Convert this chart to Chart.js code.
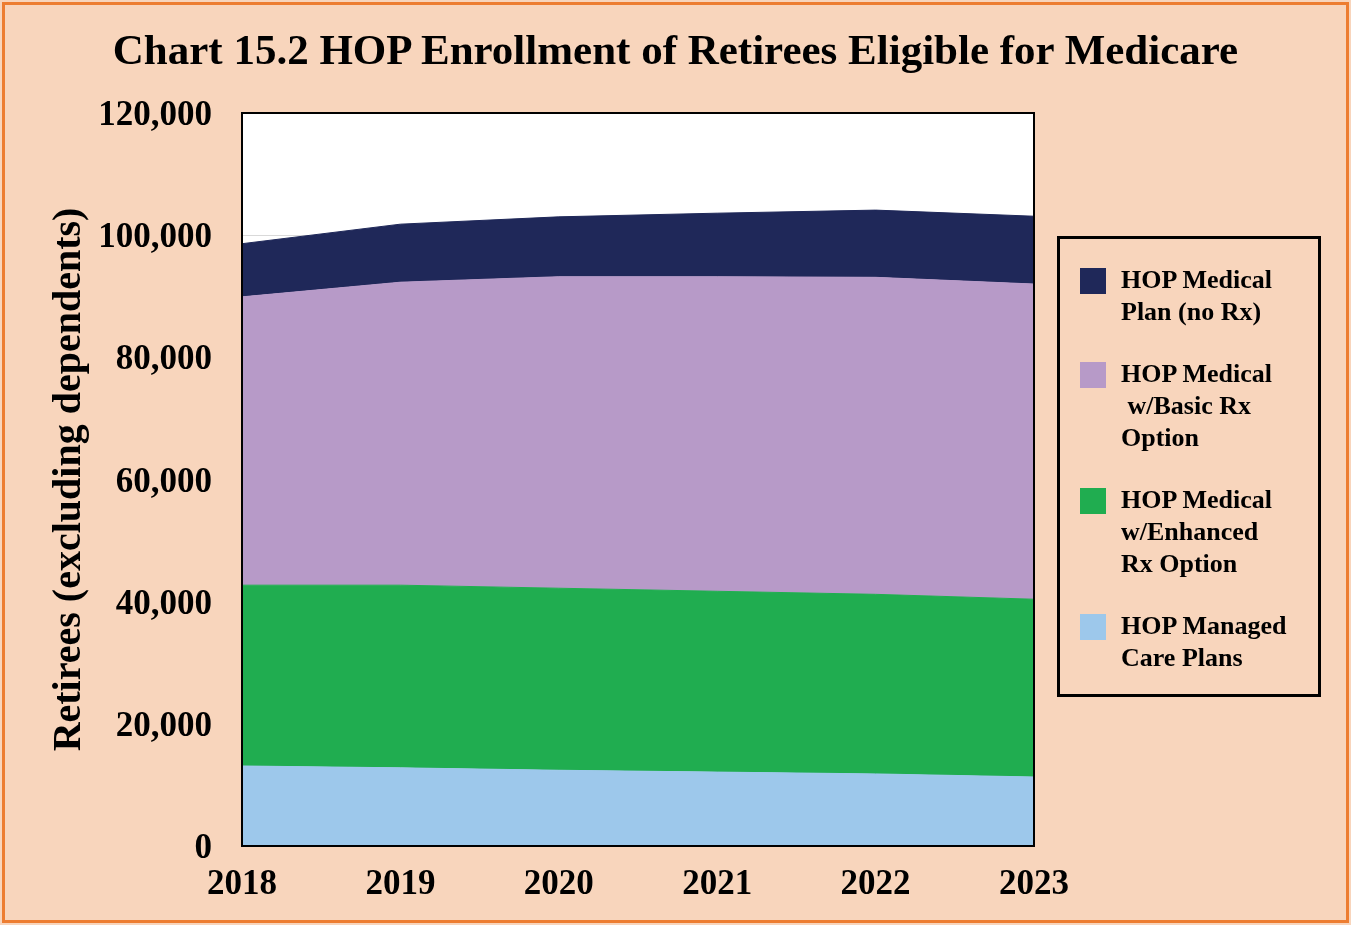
<!DOCTYPE html>
<html>
<head>
<meta charset="utf-8">
<script src="https://cdn.jsdelivr.net/npm/chart.js@4"></script>
<style>
  body { margin: 0; background: #fff; }
  #wrap { position: absolute; left: 0; top: 0; width: 1351px; height: 925px; background: #F8D5BC; }
  #frame { position: absolute; left: 2px; top: 2px; right: 2px; bottom: 2px; border: 3px solid #ED7D31; }
  #title { position: absolute; left: 0; width: 1351px; top: 25px; text-align: center;
           font: bold 43px "Liberation Serif", serif; color: #000; }
  #chart { position: absolute; left: 0; top: 0; }
  #legend { position: absolute; left: 1057px; top: 236px; width: 258px; height: 455px;
            border: 3px solid #000; font: bold 26px "Liberation Serif", serif; color: #000; }
  .item { position: relative; padding-left: 61px; margin-top: 30px; line-height: 32px; }
  .item:first-child { margin-top: 25px; }
  .sw { position: absolute; left: 20px; top: 4px; width: 26px; height: 26px; }
</style>
</head>
<body>
<div id="wrap">
  <div id="frame"></div>
  <canvas id="chart" width="1351" height="925"></canvas>
  <div id="title">Chart 15.2 HOP Enrollment of Retirees Eligible for Medicare</div>
  <div id="legend"></div>
</div>
<script>
const years = ['2018', '2019', '2020', '2021', '2022', '2023'];
const managedCare = [13100, 12800, 12400, 12100, 11800, 11300];
const enhancedRx = [29600, 29900, 29800, 29600, 29400, 29100];
const basicRx = [47200, 49600, 51000, 51500, 51900, 51600];
const noRx = [8700, 9500, 9800, 10400, 11000, 11100];
const yTicks = [0, 20000, 40000, 60000, 80000, 100000, 120000];

const series = [
  { label: ['HOP Managed', 'Care Plans'], data: managedCare, color: '#9DC8EB' },
  { label: ['HOP Medical', 'w/Enhanced', 'Rx Option'], data: enhancedRx, color: '#20AD50' },
  { label: ['HOP Medical', '\u00a0w/Basic Rx', 'Option'], data: basicRx, color: '#B79AC8' },
  { label: ['HOP Medical', 'Plan (no Rx)'], data: noRx, color: '#1F2859' }
];

const serif = '"Liberation Serif", serif';

// white plot area + black frame
const plotFrame = {
  id: 'plotFrame',
  beforeDraw(chart) {
    const a = chart.chartArea, ctx = chart.ctx;
    ctx.save();
    ctx.fillStyle = '#fff';
    ctx.fillRect(a.left, a.top, a.right - a.left, a.bottom - a.top);
    ctx.restore();
  },
  afterDraw(chart) {
    const a = chart.chartArea, ctx = chart.ctx;
    ctx.save();
    ctx.strokeStyle = '#000';
    ctx.lineWidth = 2;
    ctx.strokeRect(a.left, a.top, a.right - a.left, a.bottom - a.top);
    ctx.restore();
  }
};

const chart = new Chart(document.getElementById('chart'), {
  type: 'line',
  data: {
    labels: years,
    datasets: series.map((s, i) => ({
      label: s.label.join(' '),
      data: s.data,
      backgroundColor: s.color,
      borderColor: s.color,
      borderWidth: 1,
      pointRadius: 0,
      tension: 0,
      fill: i === 0 ? 'origin' : '-1'
    }))
  },
  options: {
    responsive: false,
    devicePixelRatio: 1,
    animation: false,
    layout: { padding: { left: 46, right: 317, top: 113, bottom: 0 } },
    plugins: { legend: { display: false }, tooltip: { enabled: false } },
    scales: {
      x: {
        offset: false,
        grid: { display: false, drawTicks: false },
        border: { display: false },
        ticks: { color: '#000', padding: 18, maxRotation: 0, font: { family: serif, size: 35, weight: 'bold' } },
        afterFit(s) { s.height = 79; }
      },
      y: {
        stacked: true,
        min: 0,
        max: 120000,
        afterBuildTicks(s) { s.ticks = yTicks.map(v => ({ value: v })); },
        grid: { color: '#d9d9d9', drawTicks: false },
        border: { display: false },
        ticks: {
          color: '#000', padding: 30, labelOffset: 3,
          font: { family: serif, size: 35, weight: 'bold' },
          callback: v => v.toLocaleString('en-US')
        },
        title: {
          display: true,
          text: 'Retirees (excluding dependents)',
          color: '#000',
          padding: 0,
          font: { family: serif, size: 40, weight: 'bold' }
        },
        afterFit(s) { s.width = 196; }
      }
    }
  },
  plugins: [plotFrame]
});

// legend, top series first
const legend = document.getElementById('legend');
series.slice().reverse().forEach(s => {
  const item = document.createElement('div');
  item.className = 'item';
  const sw = document.createElement('span');
  sw.className = 'sw';
  sw.style.background = s.color;
  item.appendChild(sw);
  s.label.forEach((line, i) => {
    if (i) item.appendChild(document.createElement('br'));
    item.appendChild(document.createTextNode(line));
  });
  legend.appendChild(item);
});
</script>
</body>
</html>
